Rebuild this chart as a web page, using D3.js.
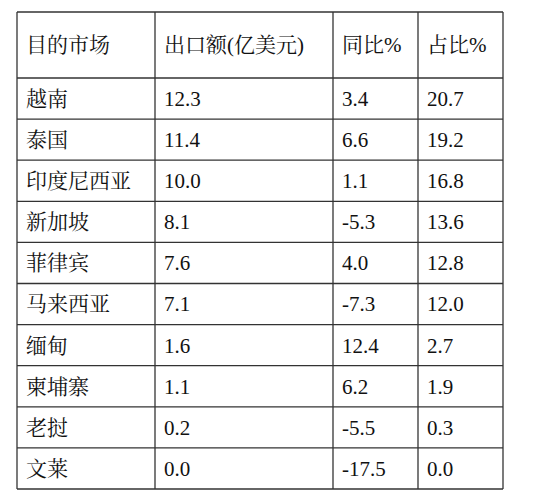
<!DOCTYPE html>
<html><head><meta charset="utf-8">
<script src="https://cdn.jsdelivr.net/npm/d3@7"></script>
<style>body{margin:0;background:#fff}</style></head>
<body><svg id="c" width="546" height="496"></svg>
<script>
const headers = ["目的市场","出口额(亿美元)","同比%","占比%"];
const markets = ["越南","泰国","印度尼西亚","新加坡","菲律宾","马来西亚","缅甸","柬埔寨","老挝","文莱"];
const exportValue = ["12.3","11.4","10.0","8.1","7.6","7.1","1.6","1.1","0.2","0.0"];
const yoy = ["3.4","6.6","1.1","-5.3","4.0","-7.3","12.4","6.2","-5.5","-17.5"];
const share = ["20.7","19.2","16.8","13.6","12.8","12.0","2.7","1.9","0.3","0.0"];

const svg = d3.select("#c");
const colX = [17,155,333,418,503];
const tableTop = 12, headH = 66, rowH = 41.1;
const rows = markets.map((m,i)=>[m, exportValue[i], yoy[i], share[i]]);
const font = "'Liberation Serif','Noto Serif CJK SC','Noto Sans CJK SC',serif";
const rowY = i => tableTop + headH + i*rowH;
const bottom = rowY(rows.length);

headers.forEach((h,j)=>{
  svg.append("text").attr("x",colX[j]+9).attr("y",tableTop+headH/2).attr("dy","0.35em")
    .attr("font-family",font).attr("font-size",21).attr("fill","#111").text(h);
});
rows.forEach((r,i)=>{
  r.forEach((v,j)=>{
    svg.append("text").attr("x",colX[j]+9).attr("y",rowY(i)+rowH/2).attr("dy","0.35em")
      .attr("font-family",font).attr("font-size",21).attr("fill","#111").text(v);
  });
});
const g = svg.append("g").attr("stroke","#333").attr("stroke-width",1.3);
colX.forEach(x=>g.append("line").attr("x1",x).attr("x2",x).attr("y1",tableTop).attr("y2",bottom));
g.append("line").attr("x1",colX[0]).attr("x2",colX[4]).attr("y1",tableTop).attr("y2",tableTop);
d3.range(rows.length+1).forEach(i=>g.append("line").attr("x1",colX[0]).attr("x2",colX[4]).attr("y1",rowY(i)).attr("y2",rowY(i)));
</script></body></html>
